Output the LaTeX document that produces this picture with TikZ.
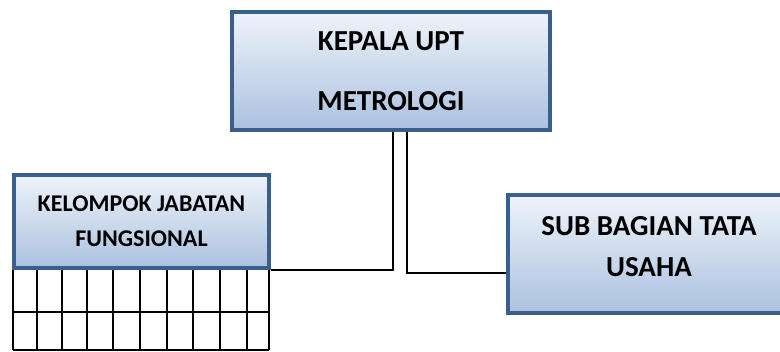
\documentclass[tikz,border=0pt]{standalone}
\usepackage{fontspec}
\setmainfont{Carlito}
\definecolor{frameblue}{HTML}{3B5F8D}
\definecolor{boxtop}{HTML}{EEF3FA}
\definecolor{boxbot}{HTML}{ABC1DF}
\tikzset{
  unit/.style={draw=frameblue,line width=3.5pt,top color=boxtop,bottom color=boxbot,
    align=center,inner sep=0pt},
  link/.style={draw=black,line width=2pt},
  cell/.style={draw=black,line width=2.6pt},
}
\begin{document}
\begin{tikzpicture}[x=1pt,y=-1pt]
    \useasboundingbox (0,0) rectangle (780,352) ;
    \clip (0,0) rectangle (780,352) ;

    \node[unit,minimum width=318pt,minimum height=118pt,
      font=\bfseries\fontsize{29}{60}\selectfont] (kepala) at (391,71) {KEPALA UPT\\METROLOGI} ;
    \node[unit,minimum width=255pt,minimum height=93pt,
      font=\bfseries\fontsize{24}{35}\selectfont] (jabatan) at (141.5,221.5) {KELOMPOK JABATAN\\FUNGSIONAL} ;
    \node[unit,minimum width=282pt,minimum height=118pt,
      font=\bfseries\fontsize{29}{41}\selectfont] (tatausaha) at (649,254) {SUB BAGIAN TATA\\USAHA\rule[-16pt]{0pt}{0pt}} ;

    \draw[link] ([xshift=2pt]kepala.south) |- (jabatan.south east) ;
    \draw[link] ([xshift=16pt]kepala.south) |- ([yshift=-19pt]tatausaha.west) ;

    \foreach \gx in {13,37,62,87,113,140,167,193,220,247,269}
      \draw[cell] (\gx,270) -- (\gx,350) ;
    \foreach \gy in {312,350}
      \draw[cell] (13,\gy) -- (269,\gy) ;

  \end{tikzpicture}
\end{document}
